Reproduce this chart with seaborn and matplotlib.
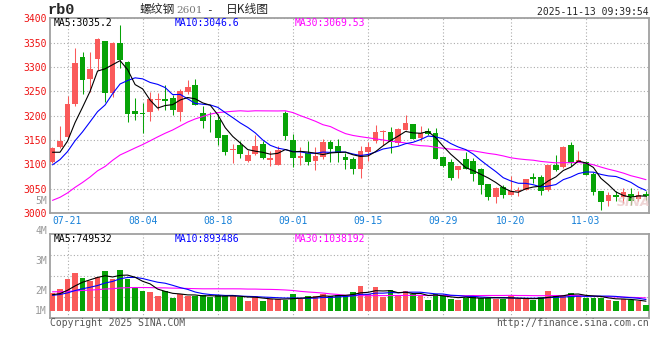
import pandas as pd
import numpy as np
import matplotlib
matplotlib.use("Agg")
import matplotlib.pyplot as plt
import seaborn as sns

# rb0 / 螺纹钢2601 daily candles, 2025-07-17 .. 2025-11-13
opens = [3104, 3135, 3157, 3223, 3320, 3275, 3317, 3353, 3247, 3350,
         3311, 3210, 3205, 3208, 3232, 3234, 3236, 3208, 3249, 3262,
         3206, 3189, 3191, 3161, 3129, 3139, 3106, 3121, 3142, 3108,
         3098, 3206, 3150, 3114, 3123, 3106, 3116, 3146, 3138, 3116,
         3110, 3091, 3125, 3148, 3167, 3167, 3144, 3171, 3183, 3155,
         3168, 3165, 3115, 3105, 3088, 3110, 3107, 3091, 3060, 3033,
         3053, 3038, 3045, 3047, 3073, 3073, 3048, 3099, 3094, 3139,
         3105, 3104, 3081, 3046, 3024, 3038, 3033, 3039, 3028, 3040]
highs = [3135, 3178, 3240, 3338, 3330, 3331, 3360, 3354, 3352, 3386,
         3312, 3236, 3225, 3249, 3246, 3263, 3243, 3255, 3273, 3275,
         3219, 3208, 3204, 3161, 3142, 3147, 3130, 3161, 3148, 3128,
         3137, 3210, 3162, 3136, 3147, 3136, 3152, 3149, 3152, 3123,
         3116, 3138, 3145, 3181, 3171, 3177, 3174, 3202, 3183, 3179,
         3174, 3174, 3116, 3111, 3097, 3125, 3113, 3093, 3060, 3053,
         3058, 3076, 3053, 3069, 3082, 3078, 3099, 3120, 3137, 3145,
         3127, 3106, 3084, 3046, 3043, 3045, 3052, 3052, 3045, 3045]
lows = [3102, 3133, 3154, 3219, 3245, 3249, 3294, 3229, 3239, 3297,
        3186, 3191, 3164, 3188, 3212, 3212, 3201, 3189, 3245, 3221,
        3174, 3166, 3140, 3120, 3103, 3112, 3104, 3120, 3111, 3096,
        3098, 3150, 3094, 3099, 3098, 3088, 3111, 3104, 3104, 3091,
        3080, 3072, 3106, 3144, 3139, 3123, 3140, 3170, 3152, 3147,
        3161, 3111, 3095, 3067, 3072, 3091, 3065, 3040, 3027, 3021,
        3030, 3038, 3035, 3047, 3062, 3037, 3046, 3086, 3093, 3096,
        3104, 3079, 3038, 3007, 3015, 3024, 3021, 3017, 3024, 3026]
closes = [3133, 3148, 3224, 3308, 3273, 3296, 3357, 3247, 3350, 3315,
          3204, 3203, 3203, 3234, 3234, 3230, 3212, 3251, 3259, 3221,
          3188, 3188, 3154, 3125, 3131, 3121, 3120, 3138, 3113, 3112,
          3130, 3159, 3114, 3118, 3105, 3118, 3145, 3131, 3123, 3108,
          3091, 3128, 3136, 3167, 3168, 3145, 3173, 3185, 3152, 3164,
          3163, 3111, 3096, 3071, 3097, 3091, 3081, 3058, 3033, 3051,
          3036, 3045, 3048, 3069, 3069, 3045, 3099, 3089, 3135, 3103,
          3108, 3079, 3043, 3023, 3038, 3033, 3043, 3024, 3038, 3035]
# volume, millions of lots
volumes = [1.44, 1.73, 2.53, 3.04, 2.64, 2.40, 2.69, 3.20, 2.56, 3.28,
           2.51, 1.81, 1.60, 1.52, 1.20, 1.60, 1.02, 1.36, 1.14, 1.17,
           1.23, 1.09, 1.23, 1.14, 1.23, 1.09, 0.78, 1.17, 0.78, 0.93,
           0.93, 0.85, 1.33, 0.93, 1.17, 1.17, 1.33, 1.17, 1.23, 1.23,
           1.52, 2.00, 1.36, 1.89, 1.12, 1.65, 1.17, 1.57, 1.33, 1.17,
           0.85, 1.36, 1.23, 0.93, 0.85, 1.04, 1.14, 1.04, 1.04, 0.93,
           0.96, 1.14, 0.93, 0.93, 0.85, 1.07, 1.57, 1.26, 1.23, 1.44,
           1.17, 1.04, 1.02, 1.04, 0.85, 0.80, 0.96, 0.85, 0.75, 0.45]

# sessions before 07-17, estimated from where the MA lines start
prior_closes = [2960, 2955, 2965, 2970, 2960, 2975, 2980, 2970, 2985, 2990,
                2985, 2995, 3000, 2995, 3005, 3010, 3005, 3015, 3030, 3040,
                3040, 3060, 3085, 3090, 3090, 3148, 3110, 3118, 3115]
prior_volumes = [1.7, 1.6, 1.8, 1.7, 1.5, 1.6, 1.7, 1.8, 1.6, 1.7,
                 1.5, 1.6, 1.7, 1.8, 1.7, 1.6, 1.6, 1.7, 1.6, 1.6,
                 1.1, 1.2, 1.2, 1.2, 1.2, 1.3, 1.2, 1.3, 1.16]

tick_dates = ["07-21", "08-04", "08-18", "09-01", "09-15", "09-29", "10-20", "11-03"]
price_ticks = [3000, 3050, 3100, 3150, 3200, 3250, 3300, 3350, 3400]
vol_labels = ["5M", "4M", "3M", "2M", "1M"]
ma_labels = ["MA5:3035.2", "MA10:3046.6", "MA30:3069.53"]
vol_ma_labels = ["MA5:749532", "MA10:893486", "MA30:1038192"]

holidays = pd.to_datetime(["2025-10-01", "2025-10-02", "2025-10-03",
                           "2025-10-06", "2025-10-07", "2025-10-08"])
days = pd.bdate_range("2025-07-17", "2025-11-13")
days = days[~days.isin(holidays)]
dates = list(days.strftime("%m-%d"))

df = pd.DataFrame({"x": np.arange(len(closes)), "open": opens, "high": highs,
                   "low": lows, "close": closes, "vol": volumes})
df["dir"] = np.where(df["close"] >= df["open"], "up", "down")

n0 = len(prior_closes)
c_all = pd.Series(prior_closes + closes)
v_all = pd.Series(prior_volumes + volumes)
for w in (5, 10, 30):
    df[f"ma{w}"] = c_all.rolling(w).mean().iloc[n0:].values
    df[f"vma{w}"] = v_all.rolling(w).mean().iloc[n0:].values

sns.set_style("white")
plt.rcParams["font.family"] = ["DejaVu Sans Mono"]

RED = "#fa5a5a"
GREEN = "#07a307"
GRID = "#ababab"
FRAME = "#a0a0a0"
colors = {"up": RED, "down": GREEN}
W, H = 660, 360

def fx(px):
    return px / W

def fy(py):
    return 1 - py / H

fig = plt.figure(figsize=(6.6, 3.6), dpi=100)
ax = fig.add_axes([fx(50), fy(213), 599 / W, (213 - 18.3) / H])
axv = fig.add_axes([fx(50), fy(317.7), 599 / W, (317.7 - 234.3) / H])

xlim = (-0.33, 79.4)
tick_pos = [dates.index(d) for d in tick_dates]

# candles
cc = df["dir"].map(colors)
ax.vlines(df["x"], df["low"], df["high"], colors=cc, lw=0.75, zorder=3)
body_lo = np.minimum(df["open"], df["close"])
body_h = np.maximum((df["close"] - df["open"]).abs(), 2.0)
ax.bar(df["x"], body_h, bottom=body_lo, width=0.76, color=cc, lw=0, zorder=3)

for col, c in (("ma30", "#ff00ff"), ("ma10", "#0000ff"), ("ma5", "black")):
    sns.lineplot(data=df, x="x", y=col, color=c, lw=0.8, ax=ax, zorder=4)

ax.set_xlim(*xlim)
ax.set_ylim(3000, 3400)
ax.set_yticks(price_ticks)
ax.set_yticklabels([str(t) for t in price_ticks], color="#ee1111", fontsize=7)
ax.set_xticks(tick_pos)
ax.set_xticklabels(tick_dates, color="#1680d8", fontsize=7)
ax.tick_params(length=0, pad=2)
ax.grid(True, ls=(0, (1, 2)), color=GRID, lw=0.8)
ax.set_xlabel("")
ax.set_ylabel("")

# volume
sns.barplot(data=df, x="x", y="vol", hue="dir", palette=colors, native_scale=True,
            dodge=False, width=0.76, saturation=1, legend=False, ax=axv, zorder=3,
            linewidth=0, edgecolor="none")
for col, c in (("vma30", "#ff00ff"), ("vma10", "#0000ff"), ("vma5", "black")):
    sns.lineplot(data=df, x="x", y=col, color=c, lw=0.8, ax=axv, zorder=4)
vlo, vhi = -0.56, 6.11
axv.set_xlim(*xlim)
axv.set_ylim(vlo, vhi)
axv.set_yticks([vlo + k * (vhi - vlo) / 4 for k in (1, 2, 3)])
axv.set_yticklabels([])
axv.set_xticks(tick_pos)
axv.set_xticklabels([])
axv.tick_params(length=0)
axv.grid(True, ls=(0, (1, 2)), color=GRID, lw=0.8)
axv.set_xlabel("")
axv.set_ylabel("")

for a in (ax, axv):
    for s in a.spines.values():
        s.set_color(FRAME)
        s.set_linewidth(1.3)

# texts
fig.text(fx(48), fy(10), "rb0", fontsize=11, fontweight="bold",
         family="Liberation Mono", va="center", ha="left")
cjk = ["Noto Sans CJK SC", "DejaVu Sans"]
fig.text(fx(140), fy(10), "螺纹钢", fontsize=8.5, family=cjk, va="center", ha="left")
fig.text(fx(176), fy(10.5), "2601", fontsize=7.5, family="DejaVu Serif", color="#777777",
         va="center", ha="left")
fig.text(fx(206), fy(10), "-", fontsize=8, va="center", ha="left")
fig.text(fx(226), fy(10), "日K线图", fontsize=8.5, family=cjk, va="center", ha="left")
fig.text(fx(649), fy(12), "2025-11-13 09:39:54", fontsize=7, va="center", ha="right")

for lbl, x0, c in zip(ma_labels, (54, 175, 295), ("black", "#0000ff", "#ff00ff")):
    fig.text(fx(x0), fy(23.5), lbl, fontsize=7, color=c, va="center", ha="left")
for lbl, x0, c in zip(vol_ma_labels, (54, 175, 295), ("black", "#0000ff", "#ff00ff")):
    fig.text(fx(x0), fy(238.5), lbl, fontsize=7, color=c, va="center", ha="left")

for lbl, y0 in zip(vol_labels, (200.7, 230.7, 260.7, 290.7, 310.7)):
    fig.text(fx(47), fy(y0), lbl, fontsize=7, color="#999999", va="center", ha="right")

fig.text(fx(50), fy(323.5), "Copyright 2025 SINA.COM", fontsize=7, color="#555555",
         va="center", ha="left")
fig.text(fx(649), fy(323.5), "http://finance.sina.com.cn", fontsize=7, color="#555555",
         va="center", ha="right")
# faint sina watermark
fig.text(fx(634), fy(202), "SINA", fontsize=9, fontweight="bold", style="italic",
         color="#e8c4c4", alpha=0.7, va="center", ha="center", family="DejaVu Sans")

fig.savefig("out.png", dpi=100)
